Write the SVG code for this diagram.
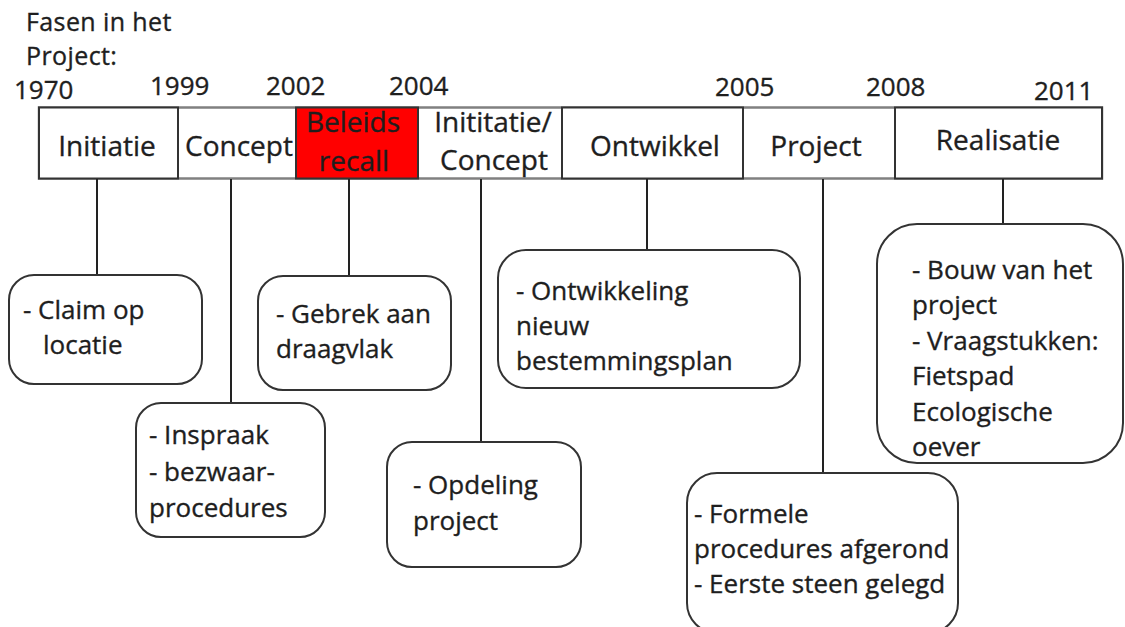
<svg xmlns="http://www.w3.org/2000/svg" width="1125" height="627" viewBox="0 0 1125 627">
  <style>
    text { font-family: "Open Sans", "Noto Sans", "DejaVu Sans", sans-serif; font-size: 26px; fill: #1e1e1e; stroke: #1e1e1e; stroke-width: 0.35; }
    .mid { text-anchor: middle; }
    .label { font-size: 28px; }
    .title { font-size: 25px; letter-spacing: 0.4px; }
    .phase { fill: #ffffff; stroke: #333333; stroke-width: 2; }
    .frame { fill: #ffffff; stroke: #808080; stroke-width: 2.5; }
    .recall { fill: #ff0000; stroke: #333333; stroke-width: 2; }
    .note { fill: #ffffff; stroke: #333333; stroke-width: 2; }
    .stem { stroke: #222222; stroke-width: 2; fill: none; }
  </style>

  <!-- heading and years -->
  <g id="heading">
    <text class="title" x="26" y="31">Fasen in het</text>
    <text class="title" x="26" y="65">Project:</text>
  </g>
  <g id="years">
    <text x="14" y="99">1970</text>
    <text x="150" y="95">1999</text>
    <text x="266" y="95">2002</text>
    <text x="389" y="95">2004</text>
    <text x="715" y="96">2005</text>
    <text x="866" y="96">2008</text>
    <text x="1034" y="100">2011</text>
  </g>

  <!-- timeline bar -->
  <g id="timeline">
    <rect class="frame" x="39" y="107.5" width="1063" height="71"/>
  </g>
  <g id="phase-initiatie">
    <rect class="phase" x="39" y="107.5" width="139" height="71"/>
    <text class="mid label" x="107" y="156">Initiatie</text>
  </g>
  <g id="phase-concept">
    <text class="mid label" x="239" y="156">Concept</text>
  </g>
  <g id="phase-beleids-recall">
    <rect class="recall" x="296" y="107.5" width="122" height="71"/>
    <text class="mid label" x="353" y="132">Beleids</text>
    <text class="mid label" x="354" y="171">recall</text>
  </g>
  <g id="phase-initiatie-concept">
    <text class="mid label" x="493" y="132">Inititatie/</text>
    <text class="mid label" x="494" y="170">Concept</text>
  </g>
  <g id="phase-ontwikkel">
    <rect class="phase" x="562" y="107.5" width="181" height="71"/>
    <text class="mid label" x="655" y="156">Ontwikkel</text>
  </g>
  <g id="phase-project">
    <text class="mid label" x="816" y="156">Project</text>
  </g>
  <g id="phase-realisatie">
    <rect class="phase" x="895" y="107.5" width="207" height="71"/>
    <text class="mid label" x="998" y="150">Realisatie</text>
  </g>

  <!-- connectors from the phases down to their notes -->
  <g id="connectors">
    <line class="stem" x1="97" y1="179" x2="97" y2="275"/>
    <line class="stem" x1="231" y1="179" x2="231" y2="403"/>
    <line class="stem" x1="349" y1="179" x2="349" y2="276"/>
    <line class="stem" x1="481" y1="179" x2="481" y2="442"/>
    <line class="stem" x1="647" y1="179" x2="647" y2="250"/>
    <line class="stem" x1="823" y1="179" x2="823" y2="473"/>
    <line class="stem" x1="1003" y1="179" x2="1003" y2="224"/>
  </g>

  <!-- notes -->
  <g id="note-claim">
    <rect class="note" x="9" y="275" width="193" height="109" rx="25" ry="25"/>
    <text x="23" y="319">- Claim op</text>
    <text x="43" y="354">locatie</text>
  </g>
  <g id="note-inspraak">
    <rect class="note" x="136" y="403" width="189" height="134" rx="25" ry="25"/>
    <text x="149" y="444">- Inspraak</text>
    <text x="149" y="481">- bezwaar-</text>
    <text x="149" y="517">procedures</text>
  </g>
  <g id="note-draagvlak">
    <rect class="note" x="258" y="276" width="193" height="114" rx="25" ry="25"/>
    <text x="276" y="323">- Gebrek aan</text>
    <text x="276" y="358">draagvlak</text>
  </g>
  <g id="note-opdeling">
    <rect class="note" x="387" y="442" width="194" height="125" rx="25" ry="25"/>
    <text x="413" y="494">- Opdeling</text>
    <text x="413" y="530">project</text>
  </g>
  <g id="note-bestemmingsplan">
    <rect class="note" x="498" y="250" width="302" height="138" rx="28" ry="28"/>
    <text x="516" y="300">- Ontwikkeling</text>
    <text x="516" y="335">nieuw</text>
    <text x="516" y="370">bestemmingsplan</text>
  </g>
  <g id="note-formeel">
    <rect class="note" x="687" y="473" width="271" height="160" rx="30" ry="30"/>
    <text x="694" y="523">- Formele</text>
    <text x="694" y="558">procedures afgerond</text>
    <text x="694" y="593">- Eerste steen gelegd</text>
  </g>
  <g id="note-realisatie">
    <rect class="note" x="877" y="224" width="246" height="239" rx="40" ry="40"/>
    <text x="912" y="279">- Bouw van het</text>
    <text x="912" y="314">project</text>
    <text x="912" y="350">- Vraagstukken:</text>
    <text x="912" y="385">Fietspad</text>
    <text x="912" y="421">Ecologische</text>
    <text x="912" y="456">oever</text>
  </g>
</svg>
